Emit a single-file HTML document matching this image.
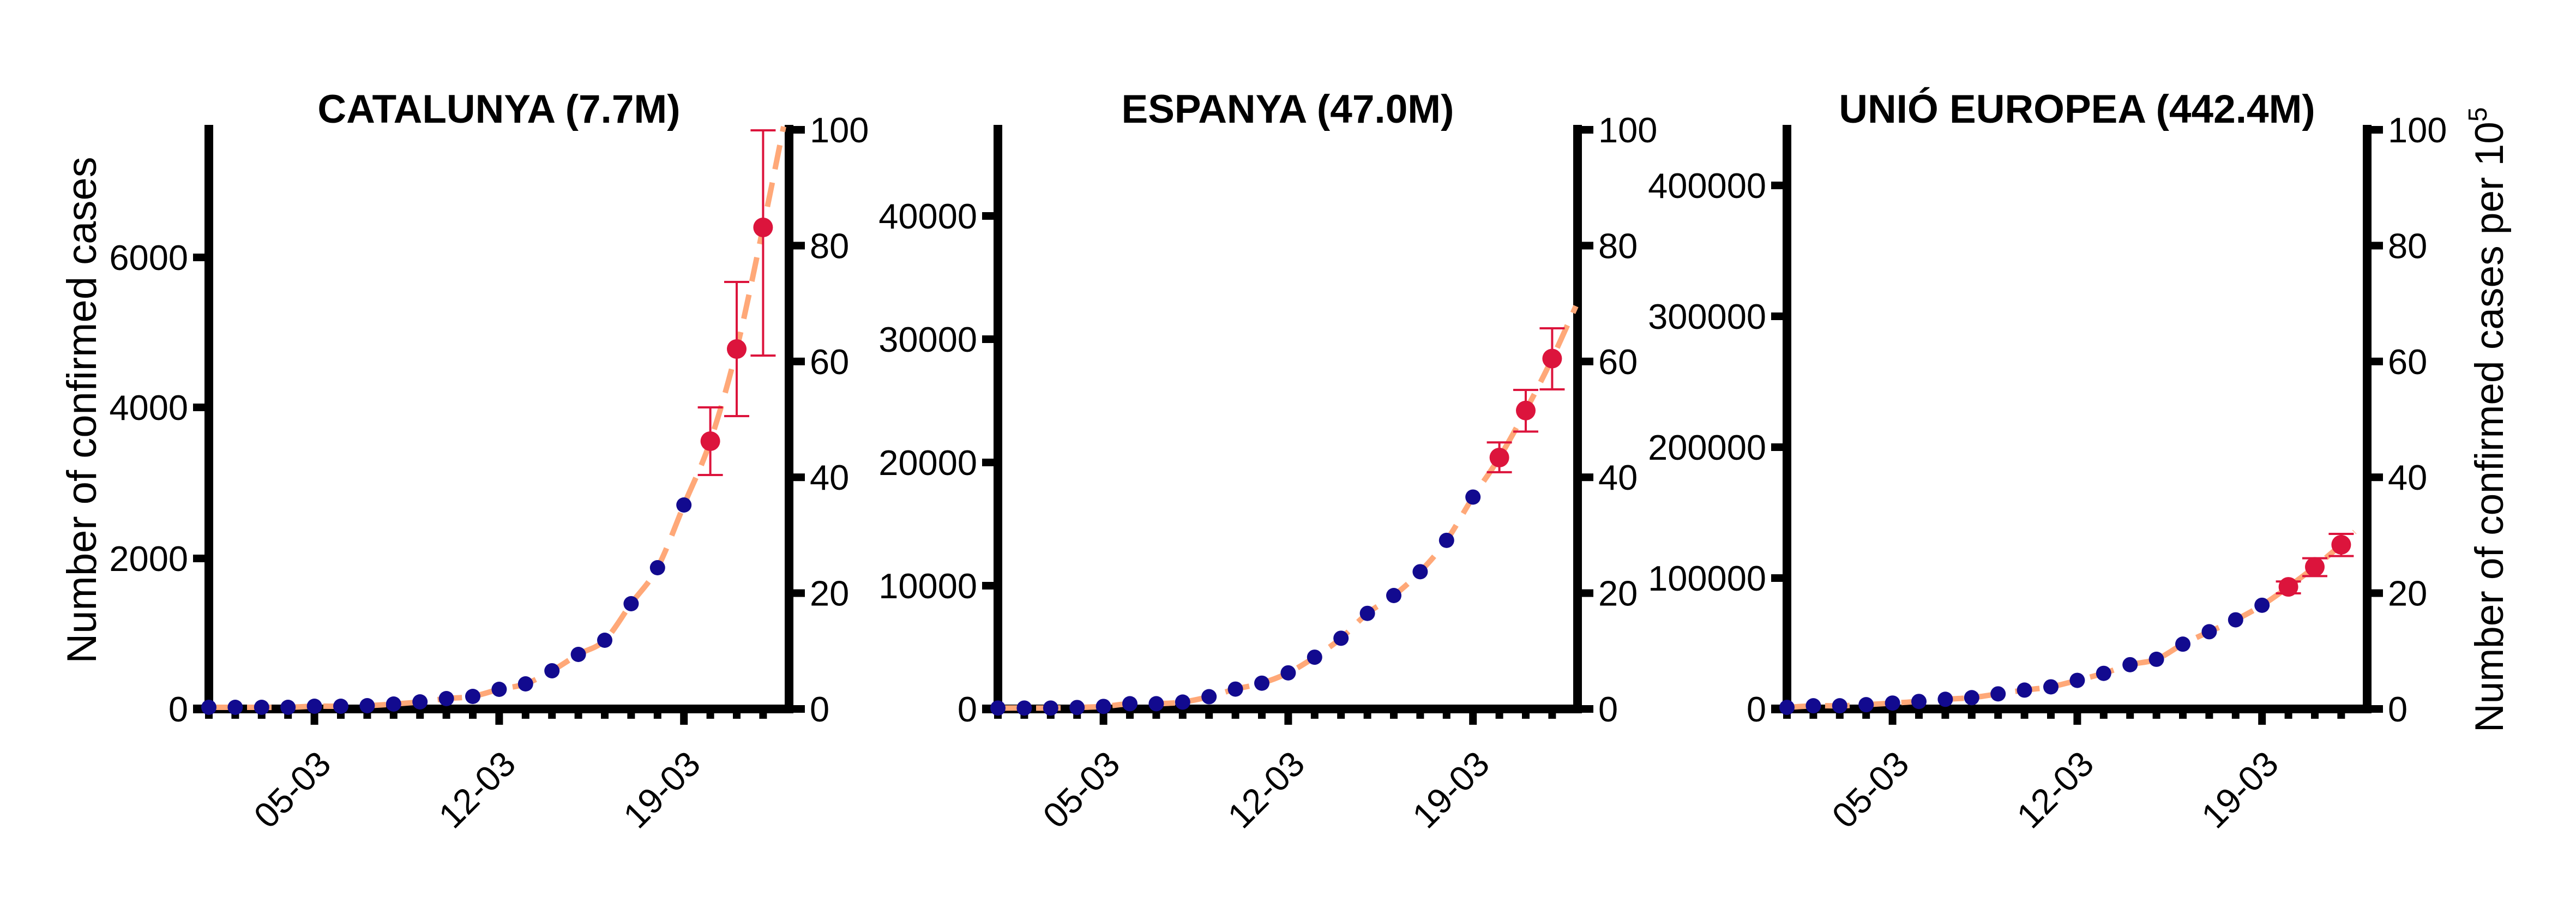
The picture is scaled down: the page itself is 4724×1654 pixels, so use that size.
<!DOCTYPE html>
<html><head><meta charset="utf-8"><style>
html,body{margin:0;padding:0;background:#fff;}
svg{display:block;}
text{font-family:"Liberation Sans",Arial,sans-serif;fill:#000;}
</style></head><body>
<svg id="s" width="4724" height="1654" viewBox="0 0 4724 1654" xmlns="http://www.w3.org/2000/svg"></svg>
<script>
const NS="http://www.w3.org/2000/svg";
const svg=document.getElementById('s');
function el(t,a,txt){const e=document.createElementNS(NS,t);for(const k in a)e.setAttribute(k,a[k]);if(txt!==undefined)e.textContent=txt;svg.appendChild(e);return e;}
const Y0=1300, DX=48.4, BLUE="#120a8f", RED="#dc143c", OR="#ffa878";
const panels=[
 {L:383,R:1447,title:"CATALUNYA (7.7M)",ticks:[[2000,1024],[4000,747],[6000,472]],
  blue:[1297,1297,1297,1297,1295,1295,1294,1291,1287,1281,1277,1264,1254,1230,1200,1174,1107,1041,926],
  red:[[809,747,871],[640,517,763],[417,239,652]],end:[1437,232],conv:v=>v},
 {L:1830,R:2893,title:"ESPANYA (47.0M)",ticks:[[10000,1074],[20000,848],[30000,622],[40000,396]],
  blue:[1208,1208,1208,1207,1205,1200,1200,1197,1187,1173,1162,1143,1114,1079,1033,1000,956,898,818],
  red:[[745,717,772],[658,620,697],[562,506,619]],end:[2890,465],conv:v=>100+0.992*v,endraw:true},
 {L:3277,R:4341,title:"UNIÓ EUROPEA (442.4M)",ticks:[[100000,1060],[200000,820],[300000,580],[400000,340]],
  blue:[1208,1205,1205,1203,1200,1197,1193,1190,1183,1176,1170,1158,1145,1129,1119,1091,1068,1046,1019],
  red:[[985,975,997],[948,932,965],[907,887,928]],end:[4318,883],conv:v=>100+0.991*v,endraw:true}
];
function catmull(pts){let d="M"+pts[0][0]+","+pts[0][1];
 for(let i=0;i<pts.length-1;i++){const p0=pts[Math.max(0,i-1)],p1=pts[i],p2=pts[i+1],p3=pts[Math.min(pts.length-1,i+2)];
  const c1=[p1[0]+(p2[0]-p0[0])/6,p1[1]+(p2[1]-p0[1])/6],c2=[p2[0]-(p3[0]-p1[0])/6,p2[1]-(p3[1]-p1[1])/6];
  d+=" C"+c1[0].toFixed(1)+","+c1[1].toFixed(1)+" "+c2[0].toFixed(1)+","+c2[1].toFixed(1)+" "+p2[0].toFixed(1)+","+p2[1].toFixed(1);}
 return d;}
panels.forEach((p,pi)=>{
 const L=p.L,R=p.R,cx=(L+R)/2;
 el('text',{x:cx,y:225,'font-size':73,'font-weight':'bold','text-anchor':'middle'},p.title);
 el('rect',{x:L-8,y:229,width:16,height:Y0+8-229,fill:'#000'});
 el('rect',{x:R-8,y:229,width:16,height:Y0+8-229,fill:'#000'});
 el('rect',{x:L-29,y:Y0-8,width:R-L+29,height:16,fill:'#000'});
 el('rect',{x:L-29,y:Y0-7,width:29,height:14,fill:'#000'});
 el('text',{x:L-38,y:Y0+23,'font-size':65,'text-anchor':'end'},"0");
 p.ticks.forEach(t=>{el('rect',{x:L-29,y:t[1]-7,width:29,height:14,fill:'#000'});
  el('text',{x:L-38,y:t[1]+23,'font-size':65,'text-anchor':'end'},String(t[0]));});
 for(let k=0;k<=5;k++){const y=Y0-k*212.4;el('rect',{x:R,y:y-7,width:29,height:14,fill:'#000'});
  el('text',{x:R+38,y:y+23,'font-size':65},String(k*20));}
 for(let i=0;i<=21;i++){const x=L+i*DX;const major=(i==4||i==11||i==18);
  el('rect',{x:x-7,y:Y0,width:14,height:major?29:18,fill:'#000'});}
 [[4,"05-03"],[11,"12-03"],[18,"19-03"]].forEach(a=>{const x=L+a[0]*DX+34,y=1405;
  el('text',{x:x,y:y,'font-size':65,'text-anchor':'end',transform:`rotate(-45 ${x} ${y})`},a[1]);});
 const pts=[];p.blue.forEach((v,i)=>pts.push([L+i*DX,p.conv(v)]));
 p.red.forEach((v,i)=>pts.push([L+(19+i)*DX,p.conv(v[0])]));
 const e=p.endraw?[p.end[0],p.conv(p.end[1])]:p.end;pts.push(e);
 el('path',{d:catmull(pts),fill:'none',stroke:OR,'stroke-width':10,'stroke-dasharray':'45 25'});
 p.blue.forEach((v,i)=>el('circle',{cx:L+i*DX,cy:p.conv(v),r:14,fill:BLUE}));
 p.red.forEach((v,i)=>{const x=L+(19+i)*DX,a=p.conv(v[1]),b=p.conv(v[2]);
  el('line',{x1:x,y1:a,x2:x,y2:b,stroke:RED,'stroke-width':4});
  el('line',{x1:x-23,y1:a,x2:x+23,y2:a,stroke:RED,'stroke-width':4});
  el('line',{x1:x-23,y1:b,x2:x+23,y2:b,stroke:RED,'stroke-width':4});
  el('circle',{cx:x,cy:p.conv(v[0]),r:18,fill:RED});});
});
el('text',{x:176,y:752,'font-size':76,'text-anchor':'middle',transform:'rotate(-90 176 752)'},"Number of confirmed cases");
const t=el('text',{x:4590,y:1343,'font-size':73,transform:'rotate(-90 4590 1343)'});
const s1=document.createElementNS(NS,'tspan');s1.textContent="Number of confirmed cases per 10";t.appendChild(s1);
const s2=document.createElementNS(NS,'tspan');s2.setAttribute('dy','-30');s2.setAttribute('font-size','48');s2.textContent="5";t.appendChild(s2);
</script>
</body></html>
